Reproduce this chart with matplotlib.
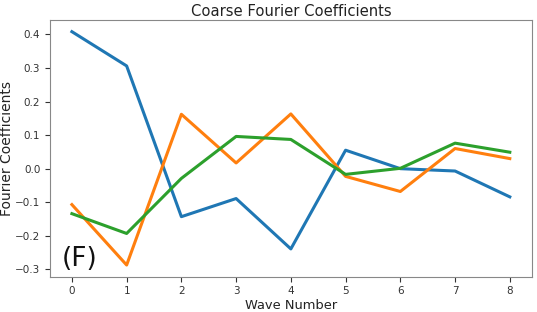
import matplotlib
matplotlib.use("Agg")
import matplotlib.pyplot as plt

waves = list(range(9))
blue = [0.408, 0.306, -0.143, -0.089, -0.239, 0.055, 0.000, -0.007, -0.084]
orange = [-0.107, -0.287, 0.162, 0.017, 0.163, -0.023, -0.068, 0.060, 0.030]
green = [-0.134, -0.193, -0.029, 0.096, 0.087, -0.017, 0.001, 0.076, 0.049]

fig = plt.figure(figsize=(5.37, 3.12), dpi=100)
ax = fig.add_axes([50/537, 1-276.7/312, (531.7-50)/537, (276.7-20)/312])
for s, c in zip([blue, orange, green], ["#1f77b4", "#ff7f0e", "#2ca02c"]):
    ax.plot(waves, s, color=c, lw=2.2)
ax.set_title("Coarse Fourier Coefficients", fontsize=10.6, color="#222222", pad=3)
ax.set_xlabel("Wave Number", fontsize=9.4, color="#222222", labelpad=2)
ax.set_ylabel("Fourier Coefficients", fontsize=10, color="#222222", labelpad=1)
ax.tick_params(labelsize=7.5, colors="#333333", length=3.5)
for sp in ax.spines.values():
    sp.set_color("#888888")
ax.text(0.025, 0.04, "(F)", transform=ax.transAxes, fontsize=19, color="#111111")
fig.savefig("out.png", dpi=100)
